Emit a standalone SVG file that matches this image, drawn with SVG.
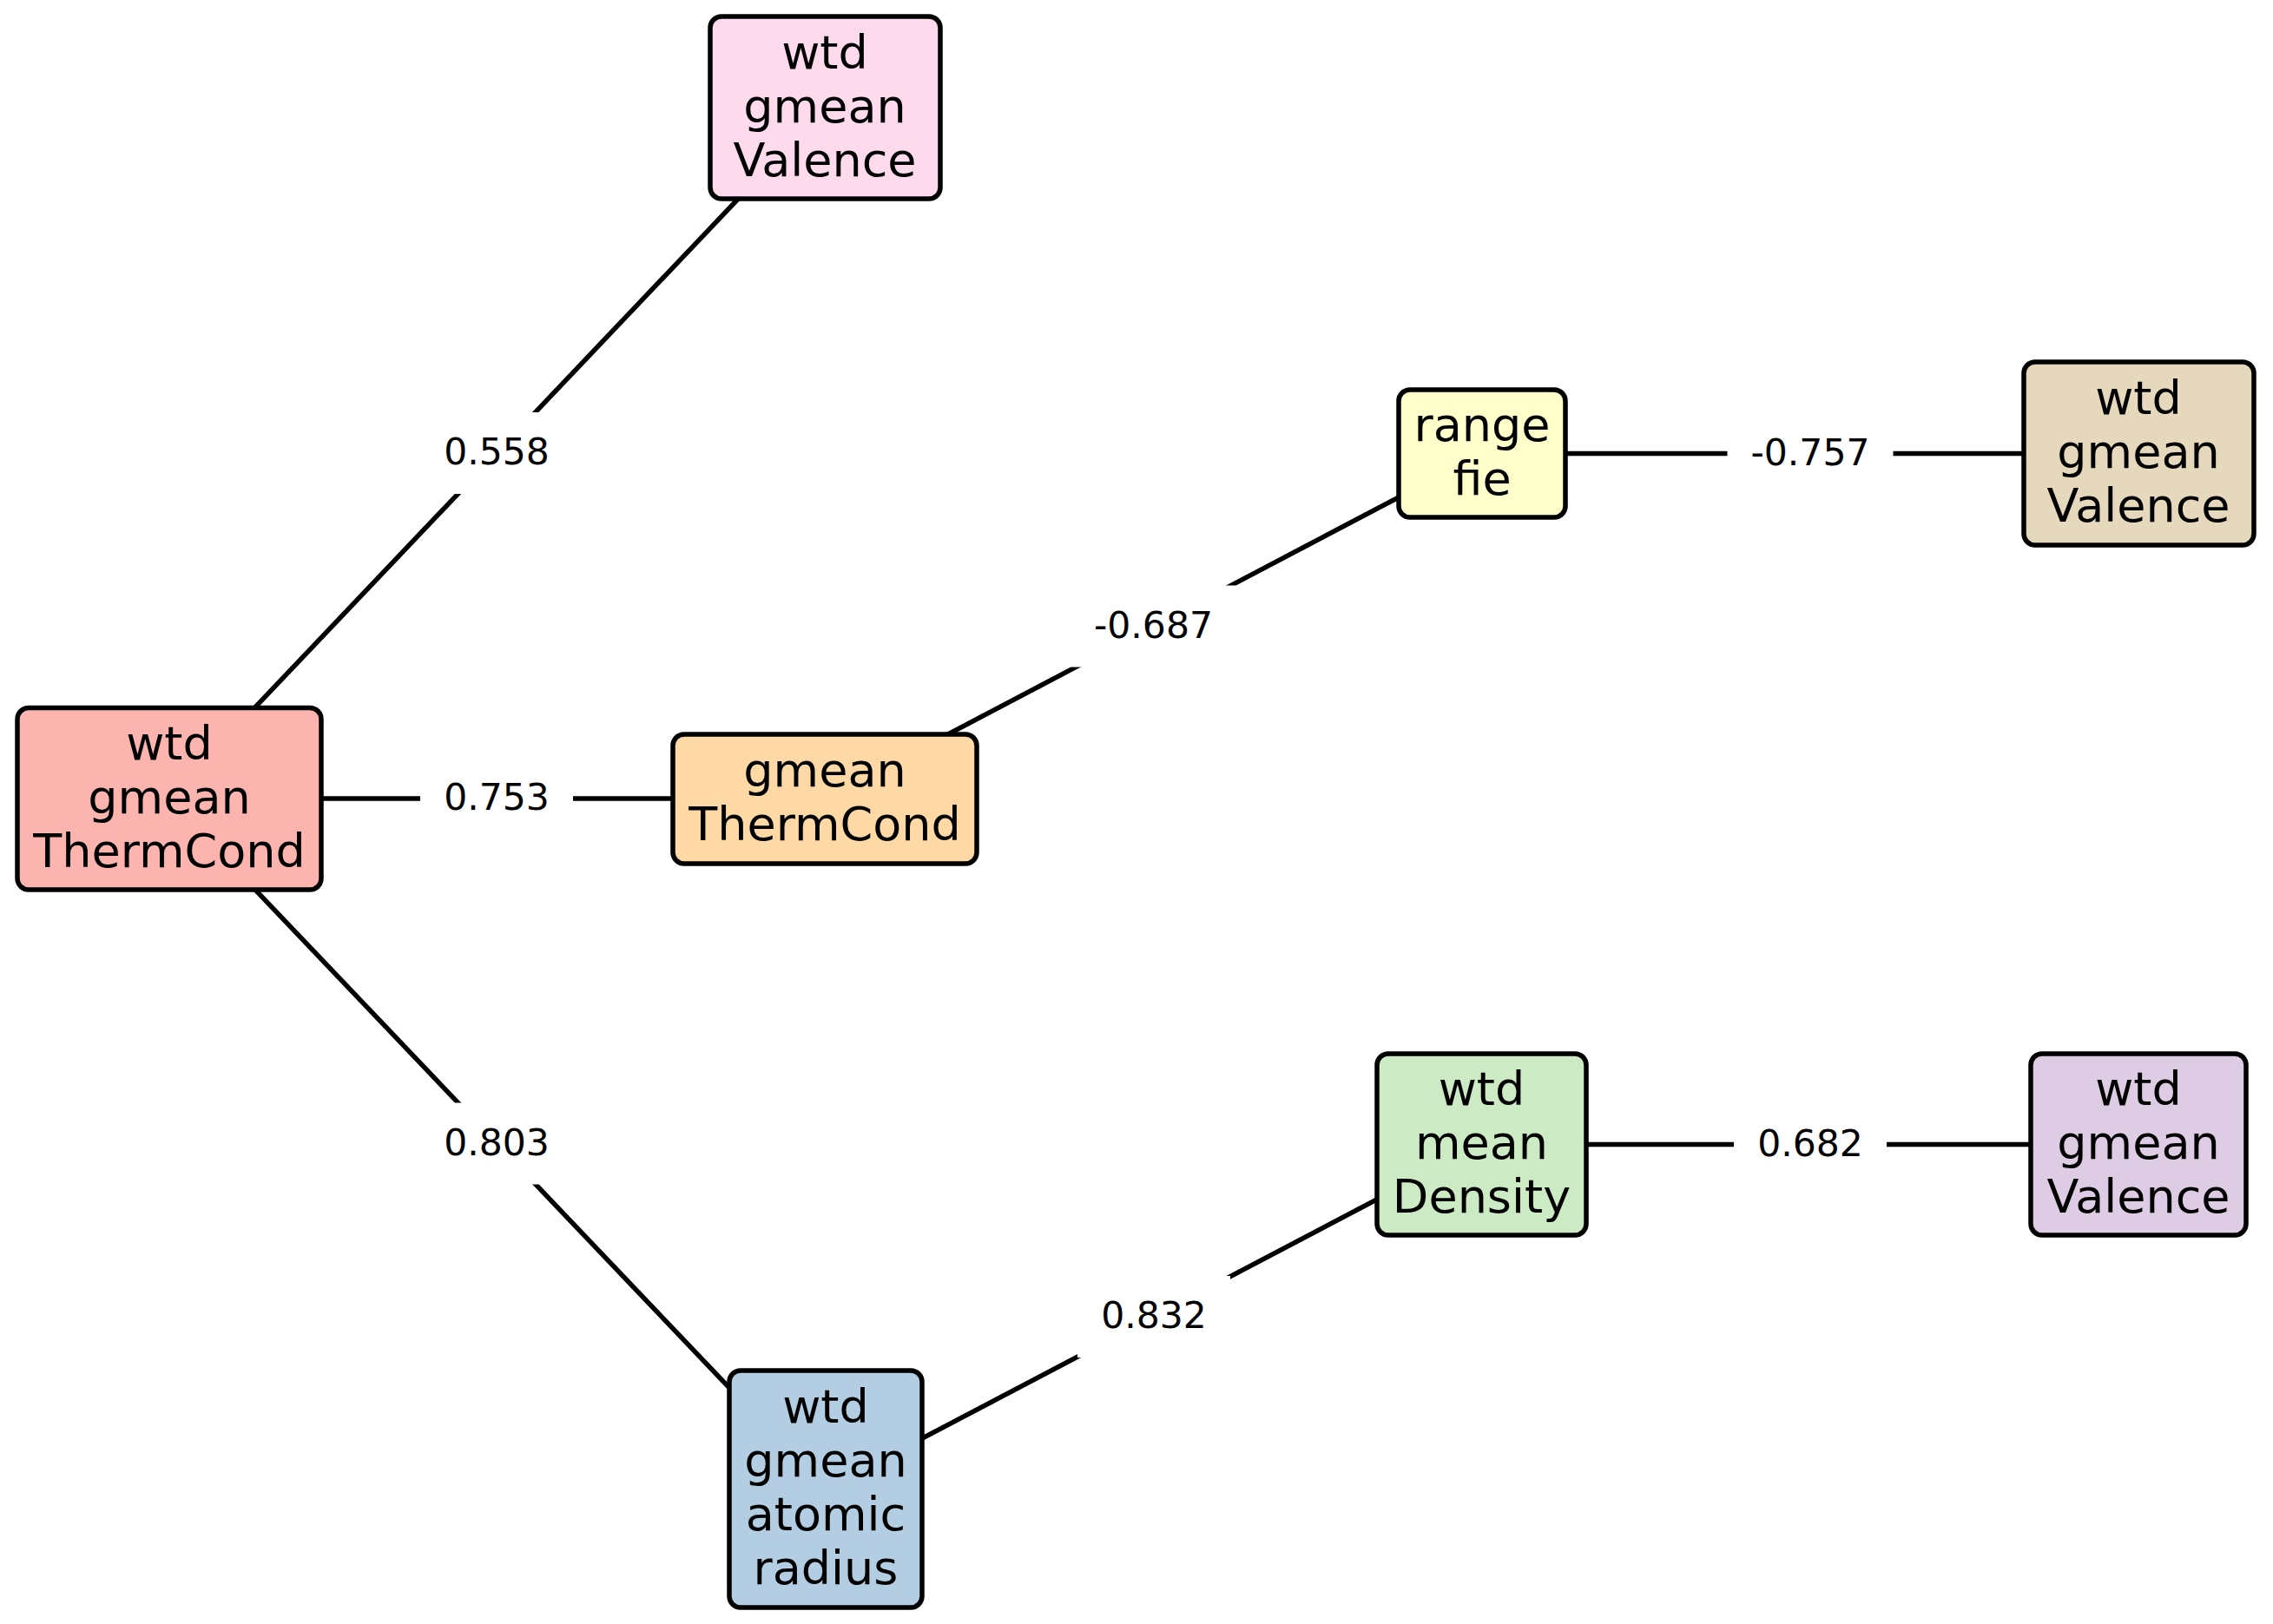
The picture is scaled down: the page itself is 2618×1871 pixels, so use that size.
<svg xmlns="http://www.w3.org/2000/svg" width="2618" height="1871" viewBox="0 0 2618 1871">
<style>
.bg{fill:#ffffff}
.edge{stroke:#000;stroke-width:5.5;fill:none}
.lblbox{fill:#ffffff;stroke:none}
.lbl{font-family:"DejaVu Sans",sans-serif;font-size:42.5px;fill:#000;text-anchor:middle}
.box{stroke:#000;stroke-width:5.5}
.txt{font-family:"DejaVu Sans",sans-serif;font-size:54px;fill:#000;text-anchor:middle}
</style>
<rect class="bg" x="0" y="0" width="2618" height="1871"/>
<g id="connectors">
<line class="edge" x1="194" y1="920" x2="950" y2="124"/>
<line class="edge" x1="194" y1="920" x2="950" y2="920"/>
<line class="edge" x1="194" y1="920" x2="951" y2="1715.5"/>
<line class="edge" x1="950" y1="920.5" x2="1707" y2="522.5"/>
<line class="edge" x1="1707" y1="522.5" x2="2463" y2="522.5"/>
<line class="edge" x1="951" y1="1715.5" x2="1706.5" y2="1318.5"/>
<line class="edge" x1="1706.5" y1="1318.5" x2="2463" y2="1318.5"/>
<rect class="lblbox" x="484" y="475" width="176" height="94"/>
<text class="lbl" x="572" y="535">0.558</text>
<rect class="lblbox" x="484" y="873" width="176" height="94"/>
<text class="lbl" x="572" y="933">0.753</text>
<rect class="lblbox" x="484" y="1270.5" width="176" height="94"/>
<text class="lbl" x="572" y="1330.5">0.803</text>
<rect class="lblbox" x="1233" y="674.5" width="191" height="94"/>
<text class="lbl" x="1328.5" y="734.5">-0.687</text>
<rect class="lblbox" x="1989.5" y="475.5" width="191" height="94"/>
<text class="lbl" x="2085" y="535.5">-0.757</text>
<rect class="lblbox" x="1241" y="1470" width="176" height="94"/>
<text class="lbl" x="1329" y="1530">0.832</text>
<rect class="lblbox" x="1997" y="1271.5" width="176" height="94"/>
<text class="lbl" x="2085" y="1331.5">0.682</text>
</g>
<g id="node-wtd-gmean-ThermCond">
<rect class="box" x="20" y="815.5" width="350" height="209.5" rx="13" fill="#fbb4ae"/>
<text class="txt" x="195" y="874.5">wtd</text>
<text class="txt" x="195" y="936.5">gmean</text>
<text class="txt" x="195" y="998.5">ThermCond</text>
</g>
<g id="node-wtd-gmean-Valence-1">
<rect class="box" x="818" y="19" width="265" height="210" rx="13" fill="#fddaec"/>
<text class="txt" x="950" y="78.5">wtd</text>
<text class="txt" x="950" y="140.5">gmean</text>
<text class="txt" x="950" y="202.5">Valence</text>
</g>
<g id="node-gmean-ThermCond">
<rect class="box" x="775" y="846" width="350" height="149" rx="13" fill="#fed9a6"/>
<text class="txt" x="950" y="906">gmean</text>
<text class="txt" x="950" y="968">ThermCond</text>
</g>
<g id="node-wtd-gmean-atomic-radius">
<rect class="box" x="840" y="1579" width="222" height="273" rx="13" fill="#b3cde3"/>
<text class="txt" x="951" y="1639">wtd</text>
<text class="txt" x="951" y="1701">gmean</text>
<text class="txt" x="951" y="1763">atomic</text>
<text class="txt" x="951" y="1825">radius</text>
</g>
<g id="node-range-fie">
<rect class="box" x="1611" y="449" width="192" height="147" rx="13" fill="#ffffcc"/>
<text class="txt" x="1707" y="508">range</text>
<text class="txt" x="1707" y="570">fie</text>
</g>
<g id="node-wtd-gmean-Valence-2">
<rect class="box" x="2331" y="417" width="265" height="211" rx="13" fill="#e5d8bd"/>
<text class="txt" x="2463" y="477">wtd</text>
<text class="txt" x="2463" y="539">gmean</text>
<text class="txt" x="2463" y="601">Valence</text>
</g>
<g id="node-wtd-mean-Density">
<rect class="box" x="1586" y="1214" width="241" height="209" rx="13" fill="#ccebc5"/>
<text class="txt" x="1706.5" y="1273">wtd</text>
<text class="txt" x="1706.5" y="1335">mean</text>
<text class="txt" x="1706.5" y="1397">Density</text>
</g>
<g id="node-wtd-gmean-Valence-3">
<rect class="box" x="2339" y="1214" width="248" height="209" rx="13" fill="#decbe4"/>
<text class="txt" x="2463" y="1273">wtd</text>
<text class="txt" x="2463" y="1335">gmean</text>
<text class="txt" x="2463" y="1397">Valence</text>
</g>
</svg>
